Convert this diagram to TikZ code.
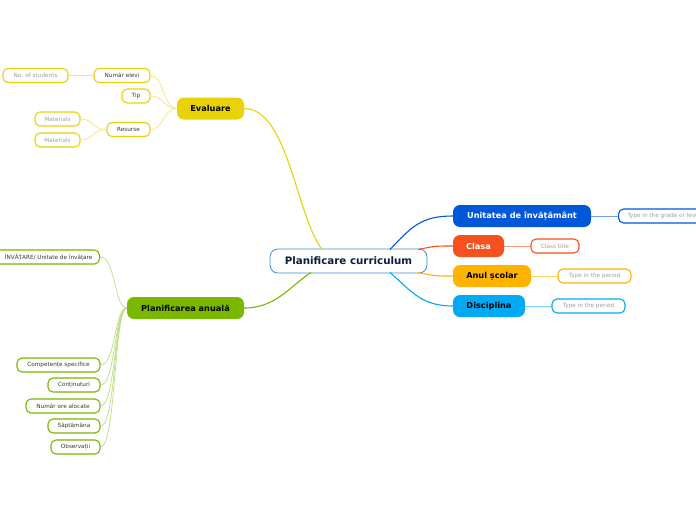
\documentclass[tikz,border=0pt]{standalone}
\usepackage{fontspec}
\setmainfont{DejaVu Sans}
\definecolor{cblue}{HTML}{3A8FD9}
\definecolor{cnavy}{HTML}{0B1F3F}
\definecolor{cyel}{HTML}{E9D20A}
\definecolor{cyelL}{HTML}{F2E57C}
\definecolor{cgrn}{HTML}{7AB800}
\definecolor{cgrnL}{HTML}{BEDD85}
\definecolor{cub}{HTML}{0057D8}
\definecolor{cubL}{HTML}{6E9EE6}
\definecolor{cred}{HTML}{F4511E}
\definecolor{credL}{HTML}{F7977A}
\definecolor{camb}{HTML}{FFB300}
\definecolor{cambL}{HTML}{FFD36E}
\definecolor{clb}{HTML}{03A9F4}
\definecolor{clbL}{HTML}{77CEF6}
\tikzset{
  x=1pt, y=-1pt,
  mainbox/.style={rounded corners=7pt, minimum height=22pt, inner sep=0pt, font=\bfseries\fontsize{8.2}{9}\selectfont},
  subbox/.style={draw, fill=white, rounded corners=5pt, minimum height=14pt, inner sep=0pt, line width=1.1pt, font=\fontsize{5.7}{6.5}\selectfont, text=black!78},
  phbox/.style={subbox, text=black!38},
  trunk/.style={line width=1.1pt},
  twig/.style={line width=0.7pt},
}
\begin{document}
\begin{tikzpicture}
\clip (0,0) rectangle (696,520);
\fill[white] (0,0) rectangle (696,520);

% central
\node[draw=cblue, fill=white, line width=0.8pt, rounded corners=8pt, minimum width=157pt, minimum height=24pt, inner sep=0pt, text=cnavy, font=\bfseries\fontsize{10.3}{12}\selectfont] (cen) at (348.5,261) {Planificare curriculum};
\coordinate (cY) at (322,249.5);
\coordinate (cG) at (311,272.5);
\coordinate (cB) at (390,249.5);
\coordinate (cR) at (418,249.5);
\coordinate (cA) at (418,272.5);
\coordinate (cL) at (390,272.5);

% main branches
\node[mainbox, fill=cyel, minimum width=67pt, text=black] (eva) at (210.5,108.5) {Evaluare};
\node[mainbox, fill=cgrn, minimum width=117pt, text=black] (pla) at (185.5,308) {Planificarea anuală};
\node[mainbox, fill=cub, minimum width=138pt, text=white] (uni) at (522,216) {Unitatea de învățământ};
\node[mainbox, fill=cred, minimum width=51pt, text=white] (cla) at (478.5,246) {Clasa};
\node[mainbox, fill=camb, minimum width=78pt, text=black] (anu) at (492,276) {Anul școlar};
\node[mainbox, fill=clb, minimum width=72pt, text=black] (dis) at (489,306) {Disciplina};

\draw[trunk, cyel] (eva.east) .. controls (288,108.5) and (296,215) .. (cY);
\draw[trunk, cgrn] (pla.east) .. controls (276,308) and (290,286) .. (cG);
\draw[trunk, cub] (cB) .. controls (412,226) and (422,216) .. (uni.west);
\draw[trunk, cred] (cR) .. controls (435,246) .. (cla.west);
\draw[trunk, camb] (cA) .. controls (435,276) .. (anu.west);
\draw[trunk, clb] (cL) .. controls (412,292) and (422,306) .. (dis.west);

% Evaluare children
\node[subbox, draw=cyel, minimum width=56pt] (nel) at (122,75.5) {Număr elevi};
\node[phbox, draw=cyel, minimum width=65pt] (nos) at (35.5,75.5) {No. of students};
\node[subbox, draw=cyel, minimum width=28pt] (tip) at (136,96) {Tip};
\node[subbox, draw=cyel, minimum width=43pt] (res) at (128.5,129.5) {Resurse};
\node[phbox, draw=cyel, minimum width=45pt] (ma1) at (57.5,119) {Materials};
\node[phbox, draw=cyel, minimum width=45pt] (ma2) at (57.5,140) {Materials};

\draw[twig, cyelL] (eva.west) .. controls (163,108.5) and (164,75.5) .. (nel.east);
\draw[twig, cyelL] (eva.west) .. controls (163,108.5) and (164,96) .. (tip.east);
\draw[twig, cyelL] (eva.west) .. controls (163,108.5) and (164,129.5) .. (res.east);
\draw[twig, cyelL] (nel.west) -- (nos.east);
\draw[twig, cyelL] (res.west) .. controls (93,129.5) and (93,119) .. (ma1.east);
\draw[twig, cyelL] (res.west) .. controls (93,129.5) and (93,140) .. (ma2.east);

% Planificarea children
\node[subbox, draw=cgrn, anchor=east, inner xsep=7pt, minimum width=0pt] (uin) at (100,257) {\hspace*{14pt}ÎNVĂȚARE/ Unitate de învățare};
\node[subbox, draw=cgrn, minimum width=83pt] (com) at (58.5,365) {Competențe specifice};
\node[subbox, draw=cgrn, minimum width=52pt] (con) at (74,385) {Conținuturi};
\node[subbox, draw=cgrn, minimum width=74pt] (nor) at (63,406) {Număr ore alocate};
\node[subbox, draw=cgrn, minimum width=52pt] (sap) at (74,426) {Săptămâna};
\node[subbox, draw=cgrn, minimum width=49pt] (obs) at (75.5,447) {Observații};

\foreach \c/\yy in {uin/257,com/365,con/385,nor/406,sap/426,obs/447}{
  \draw[twig, cgrnL] (pla.west) .. controls (114,308) and (116,\yy) .. (\c.east);
}

% right leaves
\node[phbox, draw=cub, anchor=west, inner xsep=9pt, minimum width=0pt] (ugr) at (618,216) {Type in the grade or level};
\node[phbox, draw=cred, minimum width=48pt] (ctt) at (555,246) {Class title};
\node[phbox, draw=camb, minimum width=73pt] (ap) at (594.5,276) {Type in the period};
\node[phbox, draw=clb, minimum width=73pt] (dp) at (588.5,306) {Type in the period};

\draw[twig, cubL] (uni.east) -- (ugr.west);
\draw[twig, credL] (cla.east) -- (ctt.west);
\draw[twig, cambL] (anu.east) -- (ap.west);
\draw[twig, clbL] (dis.east) -- (dp.west);
\end{tikzpicture}
\end{document}
